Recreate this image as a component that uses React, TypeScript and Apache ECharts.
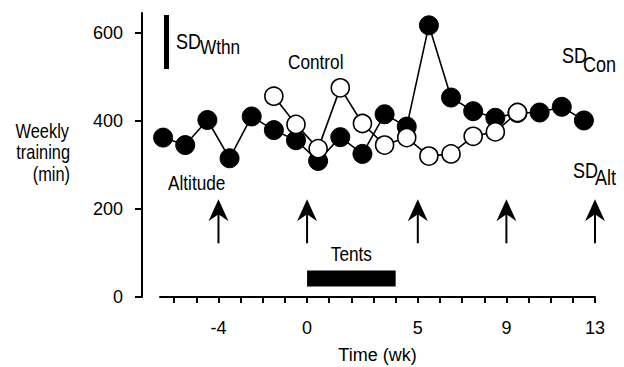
import React, { useEffect, useRef } from 'react';
import * as echarts from 'echarts';

const altitudeWeeks = [-6.5, -5.5, -4.5, -3.5, -2.5, -1.5, -0.5, 0.5, 1.5, 2.5, 3.5, 4.5, 5.5, 6.5, 7.5, 8.5, 9.5, 10.5, 11.5, 12.5];
const altitudeValues = [362, 345, 402, 315, 410, 379, 356, 309, 363, 325, 415, 387, 617, 453, 422, 407, 418, 419, 432, 401];
const controlWeeks = [-1.5, -0.5, 0.5, 1.5, 2.5, 3.5, 4.5, 5.5, 6.5, 7.5, 8.5, 9.5];
const controlValues = [456, 392, 337, 475, 394, 345, 362, 320, 325, 365, 375, 419];
const xTickValues = [-6, -5, -4, -3, -2, -1, 0, 1, 2, 3, 4, 5, 6, 7, 8, 9, 10, 11, 12, 13];
const xLabelValues = [-4, 0, 5, 9, 13];
const yTickValues = [0, 200, 400, 600];
const arrowWeeks = [-4, 0, 5, 9, 13];
const arrowTipValue = 222;
const arrowBaseValue = 122;
const tentsWeeks = [0, 4];
const tentsValues = [24, 60];

const FONT = "'Liberation Sans', Arial, sans-serif";
const NARROW = 0.82;

export default function App() {
  const ref = useRef<HTMLDivElement>(null);
  useEffect(() => {
    if (!ref.current) return;
    const chart = echarts.init(ref.current, null, { renderer: 'svg' });
    const option: any = {
      animation: false,
      backgroundColor: '#fff',
      textStyle: { fontFamily: FONT },
      grid: { left: 160, right: 29, top: 13, bottom: 70, outerBoundsMode: 'none', containLabel: false },
      xAxis: {
        type: 'value',
        min: -6.64,
        max: 13,
        name: 'Time (wk)',
        nameLocation: 'middle',
        nameGap: 49,
        nameTextStyle: { fontFamily: FONT, fontSize: 18, color: '#000' },
        axisLine: { show: true, onZero: false, lineStyle: { color: '#000', width: 2 } },
        axisTick: { show: true, length: 6, customValues: xTickValues, lineStyle: { color: '#000', width: 2 } },
        axisLabel: { customValues: xLabelValues, margin: 22, fontFamily: FONT, fontSize: 18, color: '#000' },
        splitLine: { show: false },
      },
      yAxis: {
        type: 'value',
        min: 0,
        max: 645,
        offset: 18,
        axisLine: { show: true, onZero: false, lineStyle: { color: '#000', width: 2 } },
        axisTick: { show: true, length: 7, customValues: yTickValues, lineStyle: { color: '#000', width: 2 } },
        axisLabel: { customValues: yTickValues, margin: 19, fontFamily: FONT, fontSize: 18, color: '#000' },
        splitLine: { show: false },
      },
      series: [
        {
          name: 'Altitude',
          type: 'line',
          data: altitudeWeeks.map((w, i) => [w, altitudeValues[i]]),
          symbol: 'circle',
          symbolSize: 19,
          itemStyle: { color: '#000', borderColor: '#000', borderWidth: 1 },
          lineStyle: { color: '#000', width: 1.6 },
          z: 2,
        },
        {
          name: 'Control',
          type: 'line',
          data: controlWeeks.map((w, i) => [w, controlValues[i]]),
          symbol: 'circle',
          symbolSize: 18,
          itemStyle: { color: '#fff', borderColor: '#000', borderWidth: 1.6 },
          lineStyle: { color: '#000', width: 1.6 },
          z: 3,
        },
      ],
    };
    chart.setOption(option);

    const px = (w: number, v: number) => chart.convertToPixel({ gridIndex: 0 } as any, [w, v]) as number[];
    const txt = (text: string, x: number, y: number, size: number, align: string = 'left') => ({
      type: 'text',
      x,
      y,
      scaleX: NARROW,
      style: { text, fill: '#000', font: `${size}px ${FONT}`, textAlign: align, textVerticalAlign: 'middle', verticalAlign: 'middle' },
      z: 10,
    });
    const graphics: any[] = [];
    arrowWeeks.forEach((w) => {
      const tip = px(w, arrowTipValue);
      const base = px(w, arrowBaseValue);
      const x = tip[0];
      graphics.push({
        type: 'line',
        shape: { x1: x, y1: tip[1] + 12, x2: x, y2: base[1] },
        style: { stroke: '#000', lineWidth: 2 },
        z: 10,
      });
      graphics.push({
        type: 'polygon',
        shape: { points: [[x, tip[1]], [x + 10, tip[1] + 22], [x, tip[1] + 15], [x - 10, tip[1] + 22]] },
        style: { fill: '#000' },
        z: 10,
      });
    });
    const t0 = px(tentsWeeks[0], tentsValues[1]);
    const t1 = px(tentsWeeks[1], tentsValues[0]);
    graphics.push({
      type: 'rect',
      shape: { x: t0[0], y: t0[1], width: t1[0] - t0[0], height: t1[1] - t0[1] },
      style: { fill: '#000' },
      z: 10,
    });
    graphics.push(txt('Tents', (t0[0] + t1[0]) / 2, 254, 21, 'center'));
    graphics.push({ type: 'rect', shape: { x: 164, y: 15, width: 5, height: 54 }, style: { fill: '#000' }, z: 10 });
    graphics.push(txt('SD', 176, 41, 22));
    graphics.push(txt('Wthn', 200, 47, 21));
    graphics.push(txt('Control', 288, 62, 21));
    graphics.push(txt('Altitude', 168, 183, 21));
    graphics.push(txt('SD', 562, 55, 22));
    graphics.push(txt('Con', 583, 64, 22));
    graphics.push(txt('SD', 573, 170, 22));
    graphics.push(txt('Alt', 595, 177, 22));
    graphics.push(txt('Weekly', 69, 131, 20, 'right'));
    graphics.push(txt('training', 70, 152, 20, 'right'));
    graphics.push(txt('(min)', 70, 174, 20, 'right'));
    chart.setOption({ graphic: graphics });

    return () => chart.dispose();
  }, []);
  return <div ref={ref} style={{ position: 'fixed', left: 0, top: 0, width: 624, height: 367 }} />;
}
